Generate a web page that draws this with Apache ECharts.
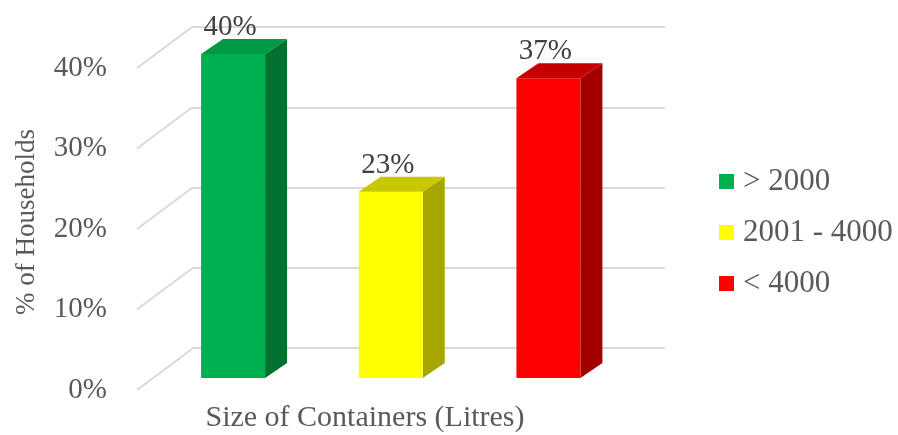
<!DOCTYPE html>
<html>
<head>
<meta charset="utf-8">
<script src="https://cdn.jsdelivr.net/npm/echarts@6.0.0/dist/echarts.min.js"></script>
<style>
  html, body { margin: 0; padding: 0; background: #ffffff; }
  #chart { width: 898px; height: 435px; }
</style>
</head>
<body>
<div id="chart"></div>
<script>
// Container size groups and share of households in each
const categories = ['> 2000', '2001 - 4000', '< 4000'];
const shares = [40, 23, 37];
const tickValues = [0, 10, 20, 30, 40];

// Face colours for each block: front, right side, top
const faceColors = [
  { front: '#00B050', side: '#00712F', top: '#009A44' },
  { front: '#FFFF00', side: '#A6A600', top: '#C8C800' },
  { front: '#FF0000', side: '#A30000', top: '#C60000' }
];

const FONT = 'Liberation Serif, Times New Roman, serif';
const WALL_DX = 55, WALL_DY = -41;   // depth of the back wall
const BAR_DX = 22, BAR_DY = -15;     // depth of each block

const chart = echarts.init(document.getElementById('chart'));

function hiddenAxis(extra) {
  return Object.assign({
    show: true,
    axisLine: { show: false },
    axisTick: { show: false },
    axisLabel: { show: false },
    splitLine: { show: false }
  }, extra);
}

const barSeries = categories.map(function (name, i) {
  return {
    type: 'custom',
    name: name,
    xAxisIndex: 2,
    yAxisIndex: 2,
    z: 5,
    itemStyle: { color: faceColors[i].front },
    data: [[i, shares[i]]],
    renderItem: function (params, api) {
      const idx = api.value(0);
      const val = api.value(1);
      const top = api.coord([idx, val]);
      const base = api.coord([idx, 0]);
      const band = api.size([1, 0])[0];
      const w = band * 0.406;
      const x0 = top[0] - w / 2;
      const x1 = x0 + w;
      const yt = top[1];
      const yb = base[1];
      const c = faceColors[i];
      return {
        type: 'group',
        children: [
          {
            type: 'polygon',
            shape: { points: [[x1, yt], [x1 + BAR_DX, yt + BAR_DY], [x1 + BAR_DX, yb + BAR_DY], [x1, yb]] },
            style: { fill: c.side }
          },
          {
            type: 'rect',
            shape: { x: x0, y: yt, width: w, height: yb - yt },
            style: { fill: c.front }
          },
          {
            type: 'polygon',
            shape: { points: [[x0, yt], [x1, yt], [x1 + BAR_DX, yt + BAR_DY], [x0 + BAR_DX, yt + BAR_DY]] },
            style: { fill: c.top }
          },
          {
            type: 'text',
            x: top[0] - 3,
            y: yt + BAR_DY + 3,
            style: {
              text: val + '%',
              fill: '#404040',
              font: '29px ' + FONT,
              align: 'center',
              verticalAlign: 'bottom'
            }
          }
        ]
      };
    }
  };
});

const option = {
  backgroundColor: '#ffffff',
  animation: false,
  grid: [
    // front edge: tick labels
    { left: 137, right: 760, top: 68, bottom: 45 },
    // back wall
    { left: 192, right: 233, top: 27, bottom: 87 },
    // block plane
    { left: 154.25, right: 270.75, top: 54, bottom: 57 }
  ],
  xAxis: [
    hiddenAxis({ type: 'value', gridIndex: 0, min: 0, max: 1 }),
    hiddenAxis({ type: 'value', gridIndex: 1, min: 0, max: 1 }),
    hiddenAxis({ type: 'category', gridIndex: 2, data: categories })
  ],
  yAxis: [
    {
      type: 'value', gridIndex: 0, min: 0, max: 40, interval: 10,
      axisLine: { show: false },
      axisTick: { show: false },
      splitLine: { show: false },
      axisLabel: {
        formatter: '{value}%',
        margin: 30,
        color: '#595959',
        fontFamily: FONT,
        fontSize: 29
      }
    },
    hiddenAxis({
      type: 'value', gridIndex: 1, min: 0, max: 40, interval: 10,
      splitLine: { show: true, lineStyle: { color: '#D9D9D9', width: 2 } }
    }),
    hiddenAxis({ type: 'value', gridIndex: 2, min: 0, max: 40, interval: 10 })
  ],
  legend: {
    data: categories,
    orient: 'vertical',
    left: 719,
    top: 166,
    padding: 0,
    icon: 'rect',
    itemWidth: 15,
    itemHeight: 15,
    itemGap: 20,
    textStyle: {
      color: '#595959',
      fontFamily: FONT,
      fontSize: 31,
      padding: [0, 0, 0, 4]
    },
    selectedMode: false
  },
  graphic: [
    {
      type: 'text',
      x: 365,
      y: 418,
      style: {
        text: 'Size of Containers (Litres)',
        fill: '#595959',
        font: '30px ' + FONT,
        align: 'center',
        verticalAlign: 'middle'
      }
    },
    {
      type: 'text',
      x: 27,
      y: 222,
      rotation: Math.PI / 2,
      style: {
        text: '% of Households',
        fill: '#595959',
        font: '27px ' + FONT,
        align: 'center',
        verticalAlign: 'middle'
      }
    }
  ],
  series: [
    {
      // side wall lines running from the front edge back to the wall
      type: 'custom',
      xAxisIndex: 0,
      yAxisIndex: 0,
      z: 1,
      silent: true,
      data: tickValues.map(function (v) { return [0, v]; }),
      renderItem: function (params, api) {
        const p = api.coord([api.value(0), api.value(1)]);
        return {
          type: 'line',
          shape: { x1: p[0], y1: p[1], x2: p[0] + WALL_DX, y2: p[1] + WALL_DY },
          style: { stroke: '#D9D9D9', lineWidth: 2 }
        };
      }
    }
  ].concat(barSeries)
};

chart.setOption(option);
</script>
</body>
</html>
